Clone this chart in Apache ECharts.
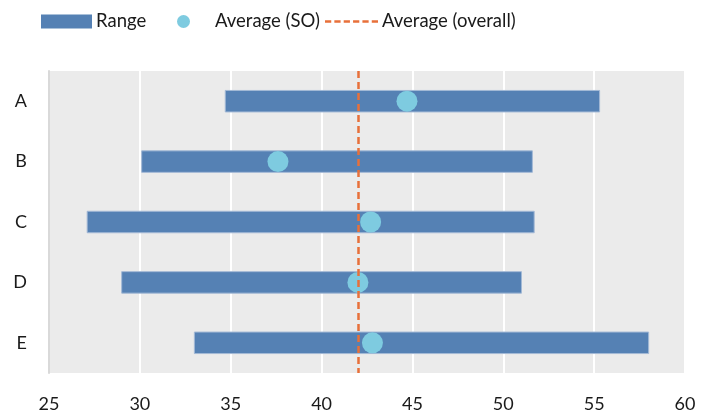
<!DOCTYPE html>
<html>
<head>
<meta charset="utf-8">
<script src="https://cdn.jsdelivr.net/npm/echarts@6/dist/echarts.min.js"></script>
<style>
  html, body { margin: 0; padding: 0; background: #fff; }
  #chart { width: 701px; height: 414px; }
</style>
</head>
<body>
<div id="chart"></div>
<script>
// Groups, low/high range and group averages
const categories = ['A', 'B', 'C', 'D', 'E'];
const rangeLow  = [34.7, 30.1, 27.1, 29.0, 33.0];
const rangeHigh = [55.3, 51.6, 51.7, 51.0, 58.0];
const avgSO     = [44.7, 37.6, 42.7, 42.0, 42.8];
const avgOverall = 42.0;
const xTicks = [25, 30, 35, 40, 45, 50, 55, 60];

const FONT = 'Lato, "Open Sans", sans-serif';
const BAR_COLOR = '#5581b4';
const DOT_COLOR = '#7ecbe0';
const LINE_COLOR = '#e8703a';
const TEXT_COLOR = '#1a1a1a';

// dashed stroke used as the legend icon of the overall average
const DASH_ICON = 'path://M0,0h6v2.4h-6z M9,0h6v2.4h-6z M18,0h6v2.4h-6z M27,0h6v2.4h-6z M36,0h6v2.4h-6z M45,0h6v2.4h-6z';

const rangeData = categories.map((c, i) => [rangeLow[i], rangeHigh[i], c]);
const avgData = categories.map((c, i) => [avgSO[i], c]);

function legendAt(left, width, textGap, item) {
  return {
    top: 12, left: left, padding: 0,
    itemWidth: width, itemHeight: 14,
    textStyle: { fontFamily: FONT, fontSize: 18.5, color: TEXT_COLOR, padding: [0, 0, 0, textGap] },
    data: [item]
  };
}

const chart = echarts.init(document.getElementById('chart'), null, { renderer: 'canvas' });

chart.setOption({
  animation: false,
  backgroundColor: '#ffffff',
  textStyle: { fontFamily: FONT },
  legend: [
    legendAt(41, 51, -1, { name: 'Range', icon: 'rect', itemStyle: { color: BAR_COLOR } }),
    legendAt(177, 13, 20, { name: 'Average (SO)', icon: 'circle', itemStyle: { color: DOT_COLOR } }),
    legendAt(325, 53, -1, { name: 'Average (overall)', icon: DASH_ICON, itemStyle: { color: LINE_COLOR } })
  ],
  grid: {
    left: 49, right: 16, top: 71, bottom: 41,
    show: true, backgroundColor: '#ebebeb', borderWidth: 0
  },
  xAxis: {
    type: 'value',
    min: xTicks[0], max: xTicks[xTicks.length - 1], interval: 5,
    axisLine: { show: false },
    axisTick: { show: false },
    splitLine: { show: true, lineStyle: { color: '#ffffff', width: 2 } },
    axisLabel: { fontFamily: FONT, fontSize: 18, color: TEXT_COLOR, margin: 22 }
  },
  yAxis: {
    type: 'category',
    data: categories,
    inverse: true,
    axisLine: { show: true, lineStyle: { color: '#d9d9d9', width: 2 } },
    axisTick: { show: false },
    axisLabel: { fontFamily: FONT, fontSize: 18, color: TEXT_COLOR, margin: 22 }
  },
  series: [
    {
      name: 'Range',
      type: 'custom',
      itemStyle: { color: BAR_COLOR },
      encode: { x: [0, 1], y: 2 },
      renderItem: function (params, api) {
        const cat = api.value(2);
        const p0 = api.coord([api.value(0), cat]);
        const p1 = api.coord([api.value(1), cat]);
        const h = 21.5;
        return {
          type: 'rect',
          shape: { x: p0[0], y: p0[1] - h / 2, width: p1[0] - p0[0], height: h },
          style: { fill: BAR_COLOR, stroke: '#a3b9d6', lineWidth: 1 }
        };
      },
      data: rangeData,
      z: 2
    },
    {
      name: 'Average (overall)',
      type: 'line',
      data: [],
      symbol: 'none',
      itemStyle: { color: LINE_COLOR },
      lineStyle: { color: LINE_COLOR, width: 2.5, type: [6, 3] },
      markLine: {
        silent: true,
        symbol: ['none', 'none'],
        label: { show: false },
        lineStyle: { color: LINE_COLOR, width: 2.5, type: [7, 4] },
        data: [{ xAxis: avgOverall }]
      },
      z: 3
    },
    {
      name: 'Average (SO)',
      type: 'scatter',
      symbol: 'circle',
      symbolSize: 21,
      itemStyle: { color: DOT_COLOR, opacity: 1 },
      data: avgData,
      z: 4
    }
  ]
});
</script>
</body>
</html>
